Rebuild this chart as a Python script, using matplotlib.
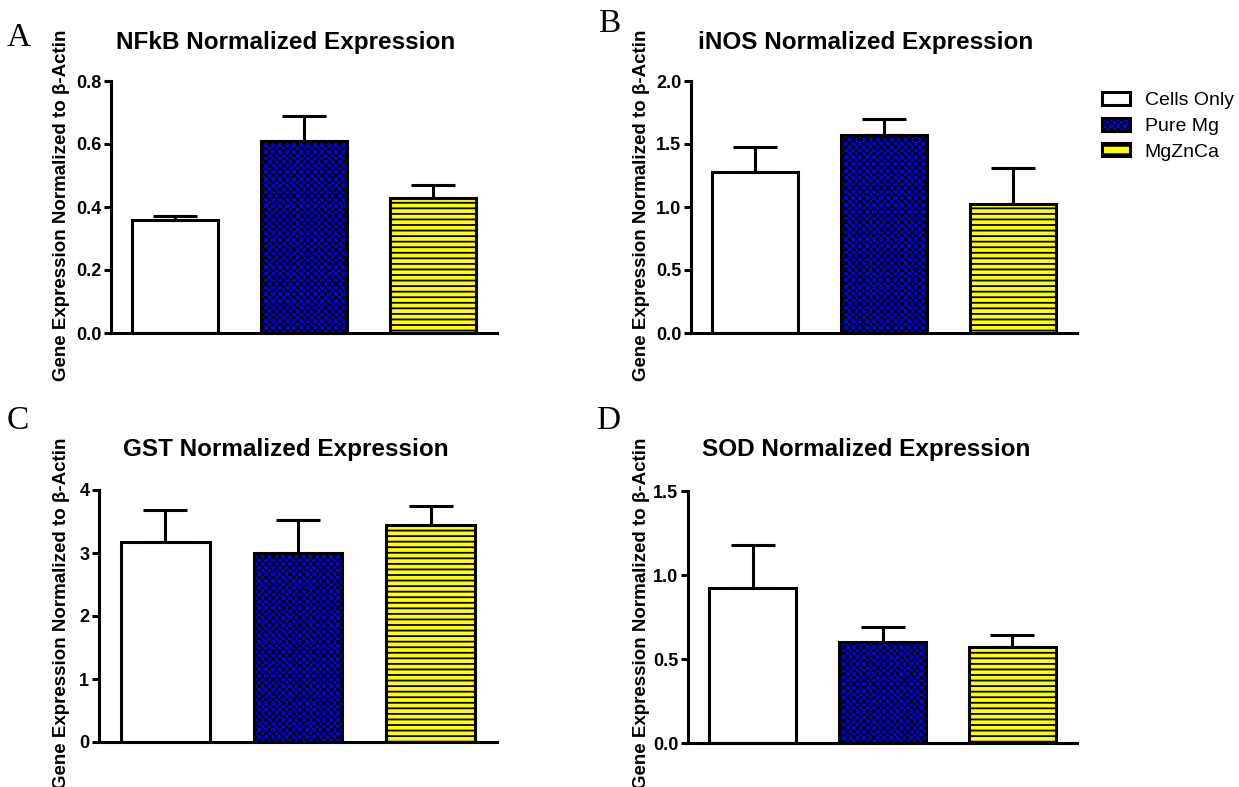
import matplotlib
matplotlib.use('Agg')
import matplotlib.pyplot as plt
import numpy as np
from matplotlib.colors import ListedColormap
from matplotlib.patches import Rectangle, Patch
from matplotlib.legend_handler import HandlerPatch
from matplotlib.ticker import FormatStrFormatter

plt.rcParams['font.family'] = ['Liberation Sans', 'DejaVu Sans']
plt.rcParams['hatch.linewidth'] = 1.3

# ---------------- data ----------------
groups = ['Cells Only', 'Pure Mg', 'MgZnCa']
titles = ['NFkB Normalized Expression', 'iNOS Normalized Expression',
          'GST Normalized Expression', 'SOD Normalized Expression']
panel_letters = ['A', 'B', 'C', 'D']
ylabel_text = 'Gene Expression Normalized to \u03b2-Actin'

nfkb_mean = [0.36, 0.61, 0.43]
nfkb_sem = [0.01, 0.08, 0.04]
inos_mean = [1.28, 1.57, 1.02]
inos_sem = [0.20, 0.13, 0.29]
gst_mean = [3.17, 3.00, 3.44]
gst_sem = [0.51, 0.53, 0.31]
sod_mean = [0.92, 0.60, 0.57]
sod_sem = [0.26, 0.09, 0.07]

y_max = [0.8, 2.0, 4.0, 1.5]
y_ticks = [[0.0, 0.2, 0.4, 0.6, 0.8],
           [0.0, 0.5, 1.0, 1.5, 2.0],
           [0, 1, 2, 3, 4],
           [0.0, 0.5, 1.0, 1.5]]
tick_fmt = ['%.1f', '%.1f', '%d', '%.1f']

means = [nfkb_mean, inos_mean, gst_mean, sod_mean]
sems = [nfkb_sem, inos_sem, gst_sem, sod_sem]

# ---------------- style ----------------
W, H = 1239, 787
BLUE = '#0000E6'
YELLOW = '#FFFF00'
LW = 2.2

fig = plt.figure(figsize=(W / 100, H / 100), dpi=100)

# axes boxes in pixels: left, top, right, bottom
boxes = [(111, 81, 497, 333), (691, 81, 1077, 333),
         (99, 490, 497, 742), (688, 491, 1077, 743)]
title_pos = [(286, 43), (866, 43), (286, 450), (866, 450)]
letter_pos = [(19, 38), (609, 24), (18, 421), (608, 421)]
ylabel_pos = [(62, 205), (641, 205), (62, 613), (641, 613)]

x = np.arange(len(groups))
checker_px = 3.4

for k in range(4):
    l, t, r, b = boxes[k]
    ax = fig.add_axes([l / W, 1 - b / H, (r - l) / W, (b - t) / H])
    ax.set_xlim(-0.5, 2.5)
    ax.set_ylim(0, y_max[k])

    bars = ax.bar(x, means[k], width=0.67, color=['white', BLUE, YELLOW],
                  edgecolor='none', zorder=1)
    bars[2].set_hatch('---')
    bars[2].set_edgecolor('black')
    bars[2].set_linewidth(0)

    # checkerboard fill for the Pure Mg bar
    sx = (r - l) / 3.0
    sy = (b - t) / y_max[k]
    p = bars[1]
    w_d, h_d = p.get_width(), p.get_height()
    nx = max(1, int(round(w_d * sx / checker_px)))
    ny = max(1, int(round(h_d * sy / checker_px)))
    arr = np.add.outer(np.arange(ny), np.arange(nx)) % 2
    im = ax.imshow(arr, extent=(p.get_x(), p.get_x() + w_d, 0, h_d), origin='lower',
                   cmap=ListedColormap([BLUE, 'black']), interpolation='nearest',
                   aspect='auto', zorder=1.5)
    im.set_clip_path(p)

    # outlines
    ax.bar(x, means[k], width=0.67, fill=False, edgecolor='black',
           linewidth=LW, zorder=3)
    ax.errorbar(x, means[k], yerr=[np.zeros(3), sems[k]], fmt='none',
                ecolor='black', elinewidth=LW, capsize=16, capthick=LW, zorder=4)

    ax.set_xlim(-0.5, 2.5)
    ax.set_ylim(0, y_max[k])
    ax.set_xticks([])
    ax.set_yticks(y_ticks[k])
    ax.yaxis.set_major_formatter(FormatStrFormatter(tick_fmt[k]))
    ax.tick_params(axis='y', direction='out', length=5, width=LW, labelsize=13, pad=2)
    for lab in ax.get_yticklabels():
        lab.set_fontweight('bold')
    for s in ['top', 'right']:
        ax.spines[s].set_visible(False)
    for s in ['left', 'bottom']:
        ax.spines[s].set_linewidth(LW)

    tx, ty = title_pos[k]
    fig.text(tx / W, 1 - ty / H, titles[k], ha='center', va='center',
             fontsize=17.5, fontweight='bold')
    lx, ly = letter_pos[k]
    fig.text(lx / W, 1 - ly / H, panel_letters[k], ha='center', va='center',
             fontsize=24, family=['Liberation Serif', 'DejaVu Serif'])
    yx, yy = ylabel_pos[k]
    fig.text(yx / W, 1 - yy / H, ylabel_text, ha='center', va='center',
             rotation=90, fontsize=13.5, fontweight='bold')


class CheckerHandler(HandlerPatch):
    def create_artists(self, legend, orig_handle, xdescent, ydescent,
                       width, height, fontsize, trans):
        arts = [Rectangle((-xdescent, -ydescent), width, height,
                          facecolor=BLUE, edgecolor='none', transform=trans)]
        n, m = 8, 4
        cw, ch = width / n, height / m
        for i in range(n):
            for j in range(m):
                if (i + j) % 2 == 0:
                    arts.append(Rectangle((-xdescent + i * cw, -ydescent + j * ch), cw, ch,
                                          facecolor='black', edgecolor='none',
                                          transform=trans))
        arts.append(Rectangle((-xdescent, -ydescent), width, height,
                              facecolor='none', edgecolor='black', linewidth=LW,
                              transform=trans))
        return arts


h_cells = Patch(facecolor='white', edgecolor='black', linewidth=LW)
h_pure = Patch(facecolor=BLUE, edgecolor='black', linewidth=LW)
h_mzc = Patch(facecolor=YELLOW, edgecolor='black', linewidth=LW, hatch='--')
fig.legend([h_cells, h_pure, h_mzc], groups, loc='upper left',
           bbox_to_anchor=(1102 / W, 1 - 92 / H), frameon=False,
           borderpad=0, borderaxespad=0, fontsize=14,
           handlelength=1.45, handleheight=0.67, handletextpad=0.75,
           labelspacing=0.42, handler_map={h_pure: CheckerHandler()})

fig.savefig('out.png', dpi=100)
